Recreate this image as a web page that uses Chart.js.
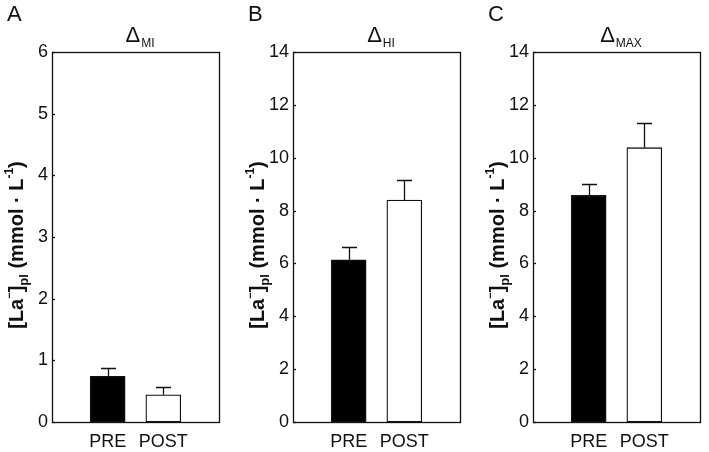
<!DOCTYPE html>
<html>
<head>
<meta charset="utf-8">
<script src="https://cdn.jsdelivr.net/npm/chart.js@4.4.0/dist/chart.umd.min.js"></script>
<style>
  html, body { margin: 0; padding: 0; background: #fff; }
  #wrap { position: relative; width: 709px; height: 452px; overflow: hidden; }
  .panel { position: absolute; top: 0; width: 228px; height: 452px; }
</style>
</head>
<body>
<div id="wrap">
  <div class="panel" style="left:0px"><canvas id="cA"></canvas></div>
  <div class="panel" style="left:241px"><canvas id="cB"></canvas></div>
  <div class="panel" style="left:481px"><canvas id="cC"></canvas></div>
</div>
<script>
// ---- data ----
const categories = ['PRE', 'POST'];
const panelLetters = ['A', 'B', 'C'];
const panelSubscripts = ['MI', 'HI', 'MAX'];
const meansA = [0.74, 0.44];
const errorsA = [0.14, 0.13];
const meansB = [6.14, 8.40];
const errorsB = [0.50, 0.74];
const meansC = [8.58, 10.38];
const errorsC = [0.44, 0.94];
const yMaxes = [6, 14, 14];
const ySteps = [1, 2, 2];
const barColors = ['#000000', '#ffffff'];

const FONT = '"Liberation Sans", Arial, sans-serif';
const INK = '#111111';

function makeChart(canvasId, idx, means, errors) {
  const labels = [''].concat(categories, ['']);
  const data = [null].concat(means, [null]);
  const errs = [null].concat(errors, [null]);
  const colors = ['#000'].concat(barColors, ['#000']);

  const panelPlugin = {
    id: 'panelDecor' + idx,
    beforeDatasetsDraw(chart) {
      const ctx = chart.ctx;
      const a = chart.chartArea;
      ctx.save();
      ctx.strokeStyle = INK;
      ctx.lineWidth = 1.3;
      ctx.strokeRect(Math.round(a.left) + 0.5, Math.round(a.top) + 0.5,
                     Math.round(a.right - a.left), Math.round(a.bottom - a.top));
      // inward tick marks
      const ys = chart.scales.y;
      ys.ticks.forEach(t => {
        const py = Math.round(ys.getPixelForValue(t.value)) + 0.5;
        ctx.beginPath();
        ctx.moveTo(a.left, py);
        ctx.lineTo(a.left + 3, py);
        ctx.stroke();
      });
      ctx.restore();
    },
    afterDatasetsDraw(chart) {
      const ctx = chart.ctx;
      const xs = chart.scales.x, ys = chart.scales.y;
      ctx.save();
      ctx.strokeStyle = INK;
      ctx.lineWidth = 1.3;
      errs.forEach((e, i) => {
        if (e == null) return;
        const x = Math.round(xs.getPixelForValue(i)) + 0.5;
        const y0 = ys.getPixelForValue(data[i]);
        const y1 = Math.round(ys.getPixelForValue(data[i] + e)) + 0.5;
        ctx.beginPath();
        ctx.moveTo(x, y0);
        ctx.lineTo(x, y1);
        ctx.moveTo(x - 7.5, y1);
        ctx.lineTo(x + 7.5, y1);
        ctx.stroke();
      });
      ctx.restore();
    },
    afterDraw(chart) {
      const ctx = chart.ctx;
      const a = chart.chartArea;
      ctx.save();
      ctx.fillStyle = INK;
      ctx.textBaseline = 'alphabetic';
      // panel letter
      ctx.font = '22px ' + FONT;
      ctx.textAlign = 'left';
      ctx.fillText(panelLetters[idx], 7, 21);
      // title Delta with subscript
      const big = '22px ' + FONT, small = '12px ' + FONT;
      ctx.font = big;
      const wD = ctx.measureText('\u0394').width;
      ctx.font = small;
      const wS = ctx.measureText(panelSubscripts[idx]).width;
      const cx = (a.left + a.right) / 2 + 4;
      const sx = cx - (wD + wS) / 2;
      ctx.font = big;
      ctx.fillText('\u0394', sx, 42);
      ctx.font = small;
      ctx.fillText(panelSubscripts[idx], sx + wD + 1, 47);
      // rotated y label
      const parts = [
        { t: '[La', f: 'bold 20px ' + FONT, dy: 0 },
        { t: '\u2212', f: 'bold 11px ' + FONT, dy: -10 },
        { t: ']', f: 'bold 20px ' + FONT, dy: 0 },
        { t: 'pl', f: 'bold 13px ' + FONT, dy: 5 },
        { t: ' (mmol \u00b7 L', f: 'bold 20px ' + FONT, dy: 0 },
        { t: '-1', f: 'bold 12px ' + FONT, dy: -10 },
        { t: ')', f: 'bold 20px ' + FONT, dy: 0 }
      ];
      let total = 0;
      parts.forEach(p => { ctx.font = p.f; p.w = ctx.measureText(p.t).width; total += p.w; });
      ctx.translate(23, 245);
      ctx.rotate(-Math.PI / 2);
      let px = -total / 2;
      parts.forEach(p => { ctx.font = p.f; ctx.fillText(p.t, px, p.dy); px += p.w; });
      ctx.restore();
    }
  };

  return new Chart(document.getElementById(canvasId), {
    type: 'bar',
    data: {
      labels: labels,
      datasets: [{
        data: data,
        backgroundColor: colors,
        borderColor: INK,
        borderWidth: 1.3,
        borderSkipped: false,
        barThickness: 35
      }]
    },
    options: {
      responsive: true,
      maintainAspectRatio: false,
      animation: false,
      devicePixelRatio: 1,
      layout: { padding: { top: 52, right: 3, left: 0, bottom: 0 } },
      plugins: { legend: { display: false }, tooltip: { enabled: false } },
      scales: {
        x: {
          type: 'category',
          offset: false,
          grid: { display: false, drawTicks: false },
          border: { display: false },
          ticks: { color: INK, font: { family: FONT, size: 18 }, padding: 9, maxRotation: 0, autoSkip: false },
          afterFit(s) { s.height = 30; }
        },
        y: {
          min: 0, max: yMaxes[idx],
          grid: { display: false, drawTicks: false },
          border: { display: false },
          ticks: { stepSize: ySteps[idx], color: INK, font: { family: FONT, size: 18 }, padding: 4, autoSkip: false },
          afterFit(s) { s.width = 52; }
        }
      }
    },
    plugins: [panelPlugin]
  });
}

makeChart('cA', 0, meansA, errorsA);
makeChart('cB', 1, meansB, errorsB);
makeChart('cC', 2, meansC, errorsC);
</script>
</body>
</html>
